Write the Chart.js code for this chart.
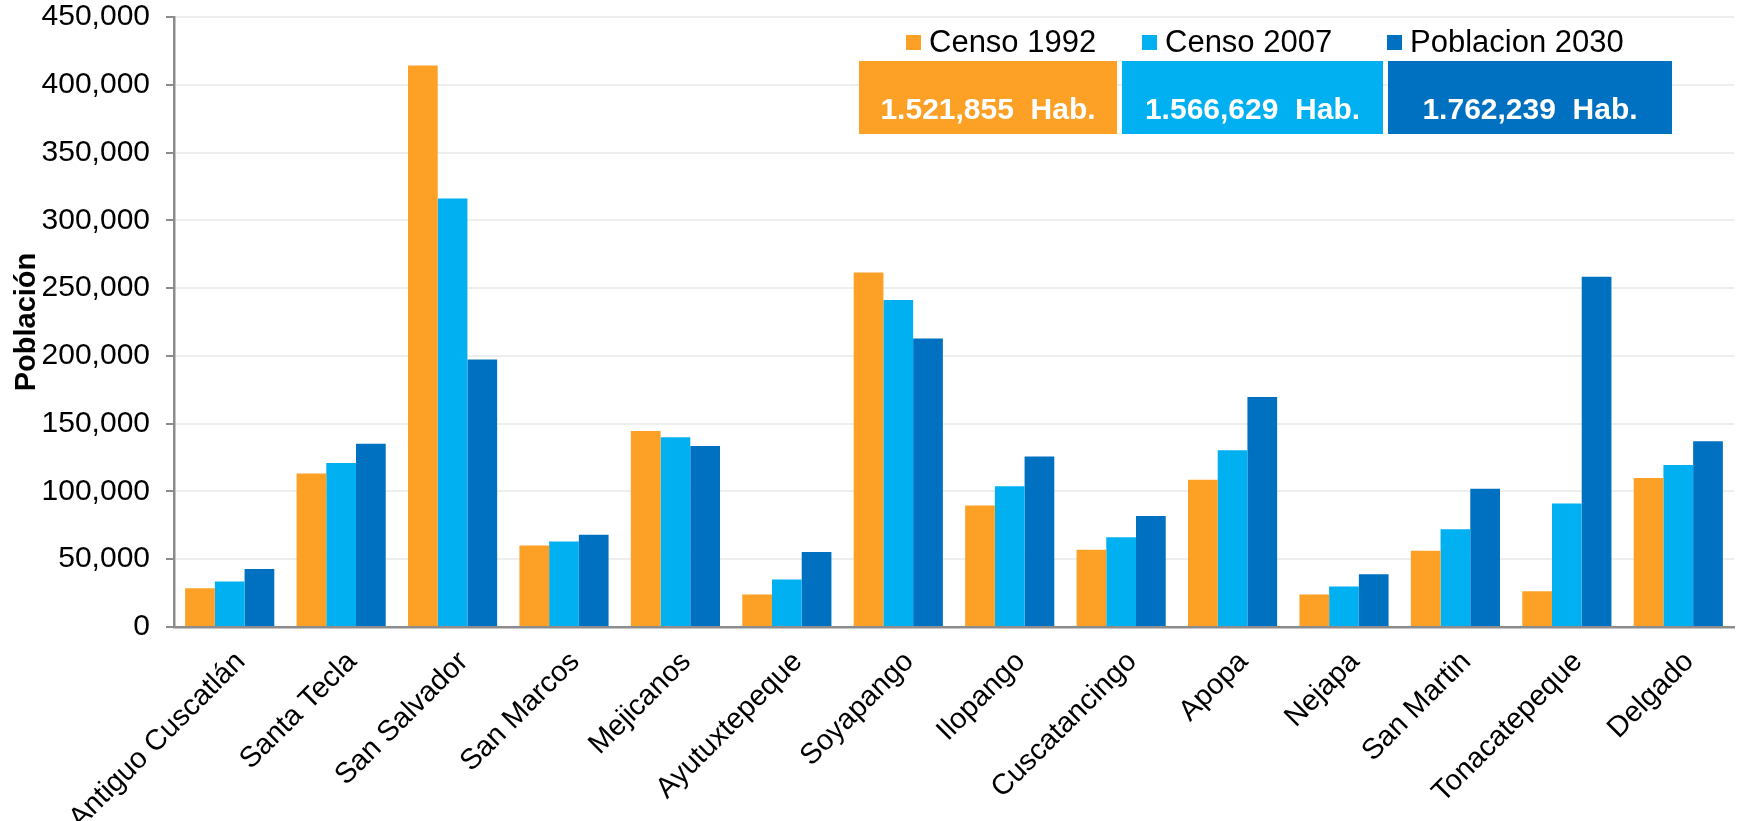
<!DOCTYPE html>
<html lang="es">
<head>
    <meta charset="UTF-8">
    <title>Población por municipio</title>
    <script src="https://cdn.jsdelivr.net/npm/chart.js"></script>
    <style>
        html, body { margin: 0; padding: 0; background: #ffffff; }
        canvas { display: block; }
    </style>
</head>
<body>
<canvas id="popChart" width="1738" height="821"></canvas>

<script>
    // Municipios y poblaciones
    const municipios = ['Antiguo Cuscatlán', 'Santa Tecla', 'San Salvador', 'San Marcos', 'Mejicanos',
        'Ayutuxtepeque', 'Soyapango', 'Ilopango', 'Cuscatancingo', 'Apopa', 'Nejapa',
        'San Martin', 'Tonacatepeque', 'Delgado'];
    const censo1992 = [28600, 113200, 414300, 60100, 144500, 24000, 261500, 89700, 57000, 108600, 24000, 56200, 26400, 109900];
    const censo2007 = [33500, 121000, 316100, 63100, 139900, 35000, 241200, 103900, 66300, 130300, 29800, 72200, 91100, 119500];
    const poblacion2030 = [42800, 135200, 197300, 68000, 133500, 55300, 212900, 125700, 81900, 169700, 38900, 102000, 258400, 137000];

    const seriesLabels = ['Censo 1992', 'Censo 2007', 'Poblacion 2030'];
    const seriesColors = ['#FDA026', '#00B0F0', '#0070C0'];
    const totals = ['1.521,855  Hab.', '1.566,629  Hab.', '1.762,239  Hab.'];

    const FONT = '"Liberation Sans", Arial, sans-serif';

    // legend + totals boxes drawn on top of the plot
    const totalsBoxes = {
        id: 'totalsBoxes',
        afterDraw(chart) {
            const c = chart.ctx;
            c.save();
            // legend row
            const legendX = [906, 1142, 1387];
            c.font = '31px ' + FONT;
            c.textBaseline = 'middle';
            c.textAlign = 'left';
            chart.data.datasets.forEach((ds, i) => {
                c.fillStyle = ds.backgroundColor;
                c.fillRect(legendX[i], 35, 15, 15);
                c.fillStyle = '#000';
                c.fillText(ds.label, legendX[i] + 23, 43);
            });
            // totals boxes
            const boxX = [859, 1122, 1388];
            const boxW = [258, 261, 284];
            c.font = 'bold 30px ' + FONT;
            c.textAlign = 'center';
            totals.forEach((t, i) => {
                c.fillStyle = seriesColors[i];
                c.fillRect(boxX[i], 61, boxW[i], 73);
                c.fillStyle = '#ffffff';
                c.fillText(t, boxX[i] + boxW[i] / 2, 111);
            });
            c.restore();
        }
    };

    const ctx = document.getElementById('popChart').getContext('2d');
    const chart = new Chart(ctx, {
        type: 'bar',
        data: {
            labels: municipios,
            datasets: [
                { label: seriesLabels[0], data: censo1992, backgroundColor: seriesColors[0] },
                { label: seriesLabels[1], data: censo2007, backgroundColor: seriesColors[1] },
                { label: seriesLabels[2], data: poblacion2030, backgroundColor: seriesColors[2] }
            ]
        },
        options: {
            responsive: false,
            animation: false,
            layout: { padding: { top: 0, right: 4, left: 0, bottom: 0 } },
            datasets: {
                bar: { categoryPercentage: 0.8, barPercentage: 1.0 }
            },
            plugins: {
                legend: { display: false },
                tooltip: { enabled: false }
            },
            scales: {
                x: {
                    grid: { display: false },
                    border: { display: true, color: '#8C8C8C', width: 2.5 },
                    ticks: {
                        autoSkip: false,
                        minRotation: 45,
                        maxRotation: 45,
                        padding: 10,
                        labelOffset: 11,
                        color: '#000',
                        font: { family: FONT, size: 29 }
                    },
                    afterFit: s => { s.height = 194; }
                },
                y: {
                    min: 0,
                    max: 450000,
                    ticks: {
                        stepSize: 50000,
                        padding: 16,
                        color: '#000',
                        font: { family: FONT, size: 30 },
                        callback: v => v.toLocaleString('en-US')
                    },
                    grid: {
                        color: '#EEEEEE',
                        lineWidth: 2,
                        tickColor: '#8C8C8C',
                        tickLength: 8
                    },
                    border: { color: '#8C8C8C', width: 2.5 },
                    title: {
                        display: true,
                        text: 'Población',
                        color: '#000',
                        font: { family: FONT, size: 29, weight: 'bold' },
                        padding: { top: 10, bottom: 0 }
                    },
                    afterFit: s => { s.width = 174; s.paddingTop = 17; }
                }
            }
        },
        plugins: [totalsBoxes]
    });
</script>
</body>
</html>
